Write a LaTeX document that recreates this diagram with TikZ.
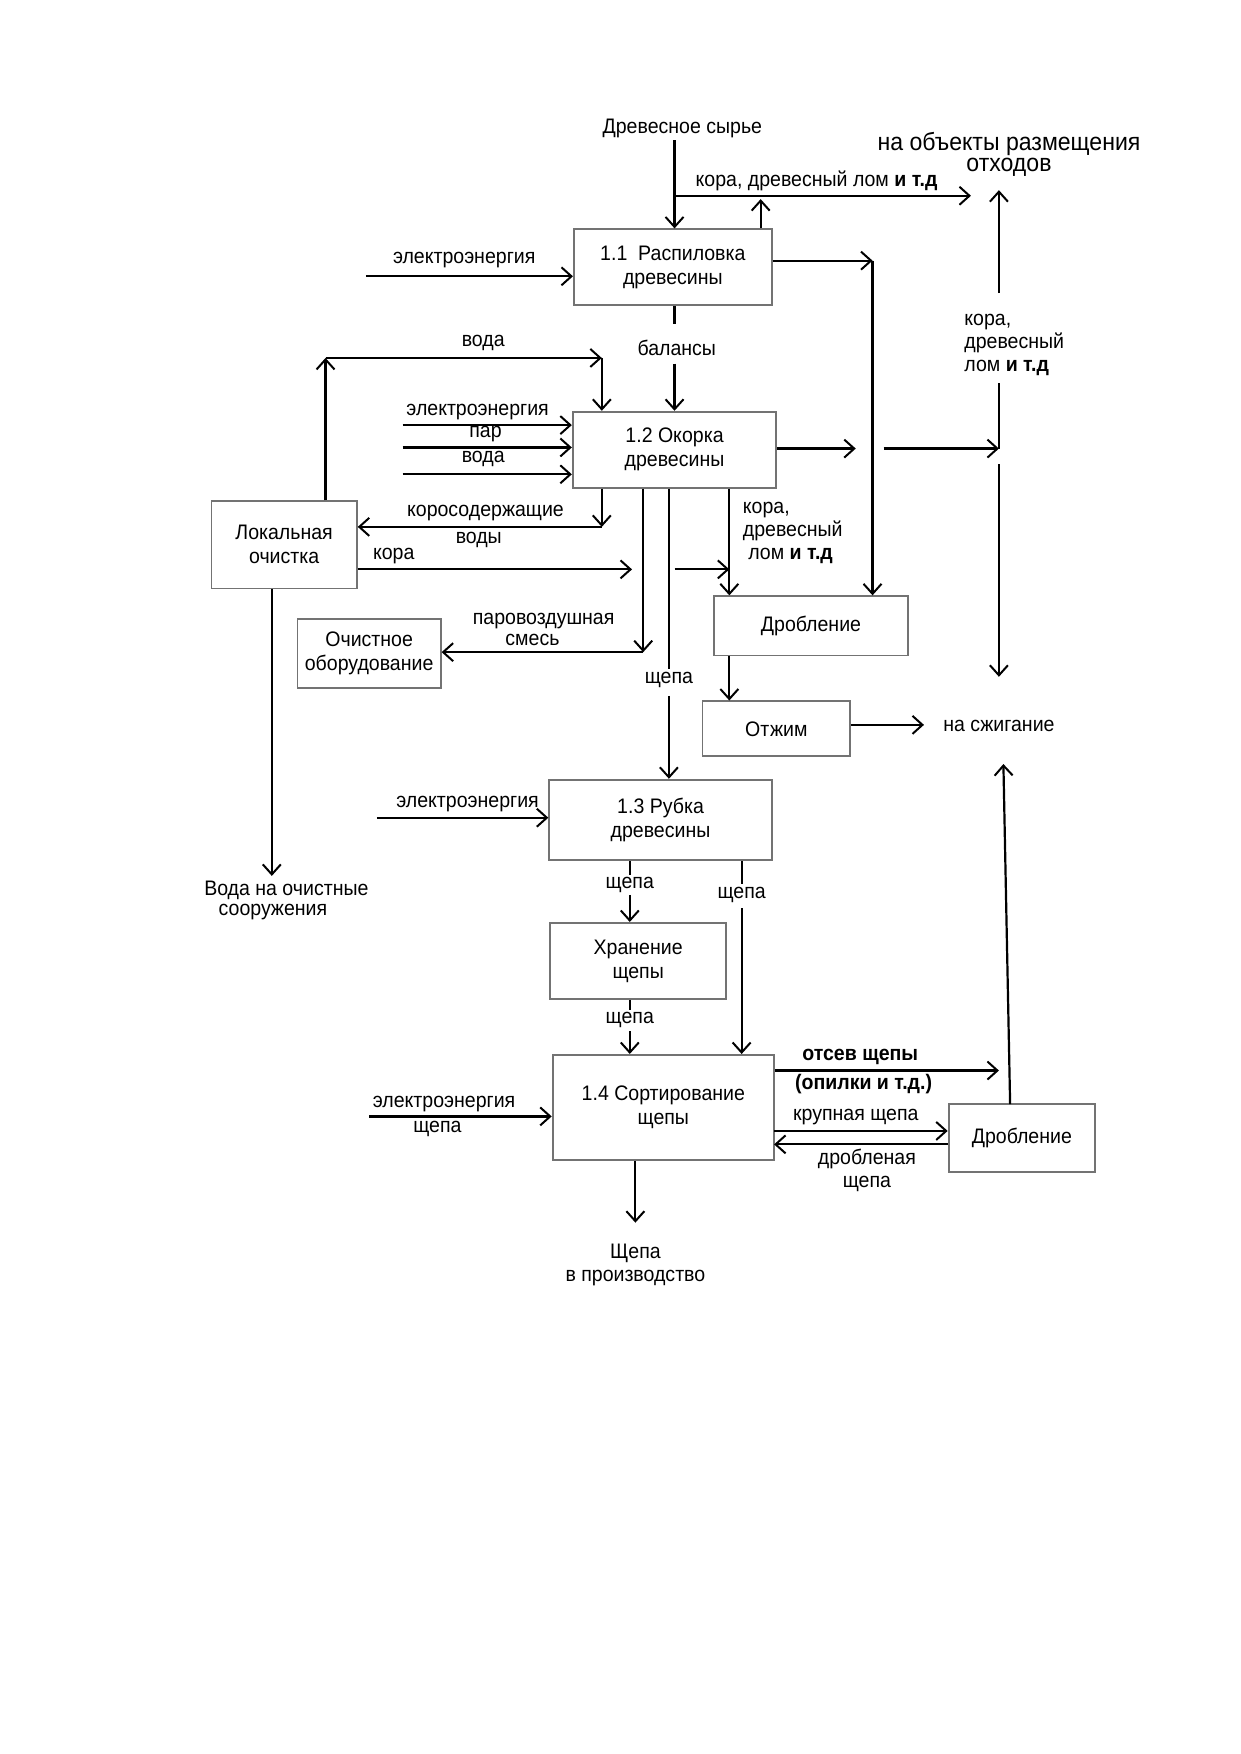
\documentclass[tikz,border=0pt]{standalone}
\usepackage{fontspec}
\setmainfont{Liberation Sans}[FakeStretch=0.93]
\usetikzlibrary{arrows.meta,calc}
\begin{document}
\begin{tikzpicture}[x=0.559pt,y=-0.559pt,
  box/.style={draw=black!55, line width=0.9pt, fill=white, inner sep=1pt, align=center,
    font=\fontsize{10.5}{12}\selectfont},
  arr/.style={line width=1.1pt, -{Straight Barb[length=5pt,width=9pt,line width=1pt]}},
  ln/.style={line width=1.1pt},
  lbl/.style={font=\fontsize{10.5}{11.5}\selectfont, inner sep=1pt, align=center},
  big/.style={font=\fontsize{12.4}{10.8}\selectfont, inner sep=1pt, align=center}]
\useasboundingbox (0,0) rectangle (1109,1568);
% boxes
\node[box, minimum width=177*0.559pt, minimum height=68*0.559pt] (b11) at (601.5,239) {1.1\ \ Распиловка\\древесины};
\node[box, minimum width=182*0.559pt, minimum height=68*0.559pt] (b12) at (603,402) {1.2 Окорка\\древесины};
\node[box, minimum width=130*0.559pt, minimum height=78*0.559pt] (lok) at (254,487) {Локальная\\очистка};
\node[box, minimum width=128*0.559pt, minimum height=62*0.559pt] (och) at (330,584) {Очистное\\оборудование};
\node[box, minimum width=174*0.559pt, minimum height=53*0.559pt] (drob1) at (725,559.5) {Дробление};
\node[box, minimum width=132*0.559pt, minimum height=49*0.559pt] (otzh) at (694,651.5) {Отжим};
\node[box, minimum width=199*0.559pt, minimum height=72*0.559pt] (b13) at (590.5,733) {1.3 Рубка\\древесины};
\node[box, minimum width=157*0.559pt, minimum height=68*0.559pt] (hran) at (570.5,859) {Хранение\\щепы};
\node[box, minimum width=198*0.559pt, minimum height=94*0.559pt] (b14) at (593,990) {1.4 Сортирование\\щепы};
\node[box, minimum width=131*0.559pt, minimum height=61*0.559pt] (drob2) at (913.5,1017.5) {Дробление};

% coordinates
\coordinate (a1) at (603,175);
\coordinate (a2) at (868,175);
\coordinate (a3) at (680,178);
\coordinate (rt) at (893,170);
\coordinate (rtl) at (893,262);
\coordinate (rml) at (893,342);
\coordinate (rj) at (893,401);
\coordinate (rs) at (893,415);
\coordinate (rb) at (893,605);
\coordinate (c11) at (780,233);
\coordinate (c12a) at (765,401);
\coordinate (c12b) at (790,401);
\coordinate (e1) at (327,247);
\coordinate (bl1) at (603,290);
\coordinate (bl2) at (603,325);
\coordinate (w1) at (291,320);
\coordinate (w2) at (538,320);
\coordinate (i1) at (360,380);
\coordinate (i2) at (360,400);
\coordinate (i3) at (360,424);
\coordinate (k1) at (538,471);
\coordinate (kr1) at (565,509);
\coordinate (kr2) at (603,509);
\coordinate (kr3) at (652,509);
\coordinate (p1) at (575,583);
\coordinate (s1) at (598,598);
\coordinate (s2) at (598,622);
\coordinate (sz) at (826,648);
\coordinate (up2) at (897,683);
\coordinate (up2b) at (903,987);
\coordinate (e3) at (337,731);
\coordinate (h1) at (563,782);
\coordinate (h2) at (563,800);
\coordinate (g1) at (663,790);
\coordinate (g2) at (663,812);
\coordinate (h3) at (563,903);
\coordinate (h4) at (563,922);
\coordinate (o1) at (893,957);
\coordinate (e4) at (330,998);
\coordinate (kp) at (692,1011);
\coordinate (dp) at (692,1023);
\coordinate (out) at (568,1093);
\coordinate (vw) at (243,783);

% labels
\node[lbl] (syr) at (610,115) {Древесное сырье};
\node[big] (otx) at (902,138) {на объекты размещения\\отходов};
\node[lbl] (kora1) at (730,162) {кора, древесный лом \textbf{и т.д}};
\node[lbl, align=left, anchor=west] (kora2) at (860,308) {кора,\\древесный\\лом \textbf{и т.д}};
\node[lbl] (el1) at (415,232) {электроэнергия};
\node[lbl] (bal) at (605,311) {балансы};
\node[lbl] (voda1) at (432,307) {вода};
\node[lbl] (el2) at (427,368) {электроэнергия};
\node[lbl] (par) at (434,388) {пар};
\node[lbl] (voda2) at (432,410) {вода};
\node[lbl] (kv1) at (434,459) {коросодержащие};
\node[lbl] (kv2) at (428,483) {воды};
\node[lbl] (kora3) at (352,497) {кора};
\node[lbl, align=left, anchor=west] (kora4) at (662,476) {кора,\\древесный\\\ лом \textbf{и т.д}};
\node[lbl] (pv1) at (486,555) {паровоздушная};
\node[lbl] (pv2) at (476,572) {смесь};
\node[lbl] (sh1) at (598,608) {щепа};
\node[lbl] (szh) at (893,649) {на сжигание};
\node[lbl] (el3) at (418,719) {электроэнергия};
\node[lbl] (sh2) at (563,791) {щепа};
\node[lbl] (sh3) at (663,800) {щепа};
\node[lbl] (sh4) at (563,912) {щепа};
\node[lbl] (ots1) at (769,945) {\textbf{отсев щепы}};
\node[lbl] (ots2) at (772,969) {\textbf{(опилки и т.д.)}};
\node[lbl] (el4) at (397,987) {электроэнергия};
\node[lbl] (sh5) at (391,1009) {щепа};
\node[lbl] (krup) at (765,999) {крупная щепа};
\node[lbl] (drsh) at (775,1046) {дробленая\\щепа};
\node[lbl] (prod) at (568,1131) {Щепа\\в производство};
\node[lbl] (vo1) at (256,796) {Вода на очистные};
\node[lbl] (vo2) at (244,815) {сооружения};

% connectors
\draw[arr] (syr.south -| a1) -- (b11.north -| a1);
\draw[arr] (a1) -- (a2);
\draw[arr] (b11.north -| a3) -- (a3);
\draw[arr] (rtl) -- (rt);
\draw[ln] (rj) -- (rml);
\draw[arr] (rs) -- (rb);
\draw[arr] (b11.east |- c11) -- (c11);
\draw[arr] (c11) -- (drob1.north -| c11);
\draw[arr] (b12.east |- c12a) -- (c12a);
\draw[arr] (c12b) -- (rj);
\draw[arr] (e1) -- (b11.west |- e1);
\draw[ln] (b11.south -| bl1) -- (bl1);
\draw[arr] (bl2) -- (b12.north -| bl2);
\draw[arr] (lok.north -| w1) -- (w1);
\draw[arr] (w1) -- (w2);
\draw[arr] (w2) -- (b12.north -| w2);
\draw[arr] (i1) -- (b12.west |- i1);
\draw[arr] (i2) -- (b12.west |- i2);
\draw[arr] (i3) -- (b12.west |- i3);
\draw[arr] (b12.south -| k1) -- (k1);
\draw[arr] (k1) -- (lok.east |- k1);
\draw[arr] (lok.east |- kr1) -- (kr1);
\draw[arr] (kr2) -- (kr3);
\draw[arr] (b12.south -| p1) -- (p1);
\draw[arr] (p1) -- (och.east |- p1);
\draw[ln] (b12.south -| s1) -- (s1);
\draw[arr] (s2) -- (b13.north -| s2);
\draw[arr] (b12.south -| kr3) -- (drob1.north -| kr3);
\draw[arr] (drob1.south -| kr3) -- (otzh.north -| kr3);
\draw[arr] (otzh.east |- sz) -- (sz);
\draw[arr] (up2b) -- (up2);
\draw[arr] (e3) -- (b13.west |- e3);
\draw[ln] (b13.south -| h1) -- (h1);
\draw[arr] (h2) -- (hran.north -| h2);
\draw[ln] (b13.south -| g1) -- (g1);
\draw[arr] (g2) -- (b14.north -| g2);
\draw[ln] (hran.south -| h3) -- (h3);
\draw[arr] (h4) -- (b14.north -| h4);
\draw[arr] (b14.east |- o1) -- (o1);
\draw[arr] (e4) -- (b14.west |- e4);
\draw[arr] (kp) -- (drob2.west |- kp);
\draw[arr] (drob2.west |- dp) -- (dp);
\draw[arr] (b14.south -| out) -- (out);
\draw[arr] (lok.south -| vw) -- (vw);
\end{tikzpicture}
\end{document}
